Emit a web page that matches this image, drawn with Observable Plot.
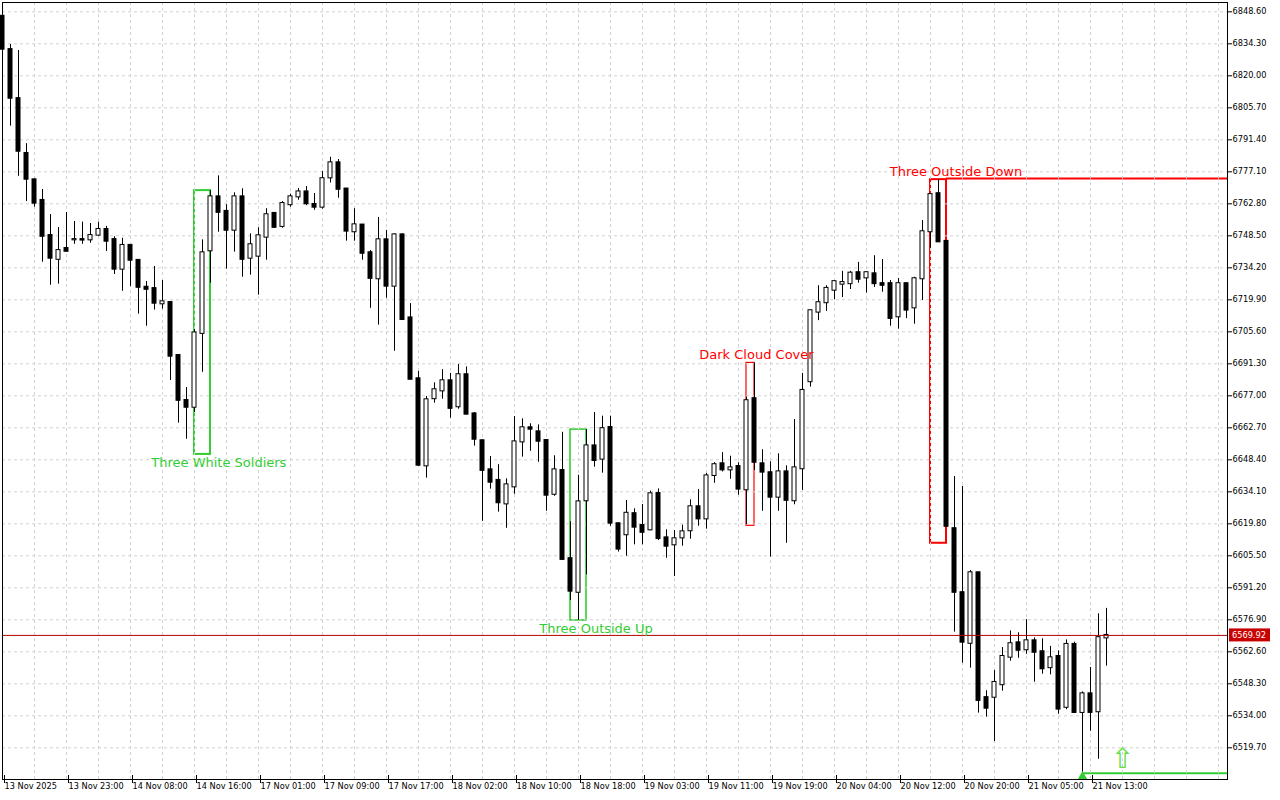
<!DOCTYPE html>
<html><head><meta charset="utf-8">
<script src="https://cdn.jsdelivr.net/npm/d3@7"></script>
<script src="https://cdn.jsdelivr.net/npm/@observablehq/plot@0.6"></script>
<style>
html,body{margin:0;padding:0;background:#fff;}
#chart{width:1280px;height:800px;overflow:hidden;}
</style>
</head><body><div id="chart"></div>
<script>
// Hourly candles, 13 Nov 2025 15:00 .. 21 Nov 2025 15:00
const open = [6846.6,6831.7,6809.8,6785.3,6773.5,6764.3,6748.6,6738.0,6742.8,6746.7,
6746.8,6746.7,6748.8,6751.3,6746.8,6733.6,6744.2,6737.5,6725.5,6724.9,
6718.1,6718.7,6695.0,6674.9,6671.9,6704.9,6741.8,6765.9,6759.4,6751.0,
6765.9,6738.5,6739.4,6747.9,6758.5,6752.7,6762.4,6765.9,6768.1,6762.5,
6761.3,6774.4,6781.1,6769.4,6750.3,6753.3,6740.9,6729.3,6746.7,6726.0,
6748.9,6711.8,6684.6,6645.7,6675.7,6679.2,6683.7,6672.1,6686.4,6668.9,
6656.9,6643.9,6639.2,6628.7,6636.3,6656.4,6662.7,6660.9,6657.0,6633.0,
6643.6,6604.2,6589.2,6630.1,6654.6,6648.7,6662.8,6619.8,6614.9,6624.3,
6619.0,6617.1,6633.3,6613.5,6610.4,6613.5,6616.7,6627.4,6622.0,6641.4,
6646.6,6643.9,6645.4,6635.0,6675.7,6646.6,6642.6,6631.7,6643.0,6630.1,
6644.4,6683.3,6714.4,6718.6,6724.2,6726.9,6727.1,6732.0,6729.7,6731.5,
6727.1,6727.1,6712.3,6727.1,6716.3,6729.3,6750.3,6767.3,6746.0,6617.6,
6589.0,6566.4,6597.9,6542.1,6542.3,6547.9,6560.2,6566.6,6563.5,6567.5,
6562.6,6555.5,6560.5,6537.8,6565.9,6535.5,6543.8,6535.8,6568.8];
const high = [6848.3,6834.0,6831.3,6789.7,6773.8,6769.2,6758.0,6752.2,6758.9,6754.9,
6754.6,6754.0,6754.6,6752.7,6748.1,6747.4,6744.5,6737.8,6728.1,6734.8,
6728.5,6719.0,6695.4,6680.7,6706.6,6746.7,6768.7,6775.3,6762.4,6767.7,
6769.5,6749.4,6752.1,6760.6,6758.8,6763.8,6767.1,6769.6,6770.5,6767.4,
6777.2,6783.6,6782.6,6769.6,6760.6,6753.5,6741.9,6756.7,6750.9,6749.4,
6749.4,6718.2,6687.9,6676.7,6682.8,6688.7,6687.0,6691.0,6689.9,6669.5,
6657.2,6649.9,6646.2,6639.9,6667.7,6666.7,6664.5,6664.0,6657.2,6650.2,
6660.7,6620.7,6641.5,6661.9,6669.5,6667.9,6667.9,6620.1,6630.2,6626.5,
6628.4,6634.4,6635.4,6617.1,6616.8,6619.2,6630.5,6635.1,6642.3,6647.1,
6651.6,6650.0,6647.1,6676.4,6691.7,6652.9,6647.5,6651.1,6645.7,6666.4,
6687.0,6715.3,6726.2,6726.2,6728.5,6732.6,6732.6,6736.6,6732.4,6739.6,
6737.9,6728.5,6729.4,6727.3,6730.0,6755.3,6767.3,6773.6,6746.2,6640.9,
6636.5,6598.9,6598.1,6545.2,6554.2,6564.5,6571.9,6571.1,6577.0,6568.8,
6568.4,6565.0,6563.0,6567.9,6566.9,6544.7,6555.6,6579.6,6582.0];
const low = [6831.5,6797.5,6775.1,6763.8,6761.3,6736.7,6726.4,6726.9,6741.4,6744.7,
6744.7,6745.2,6748.3,6741.5,6731.2,6723.7,6725.8,6713.5,6708.1,6715.3,
6715.7,6683.8,6664.8,6657.6,6669.5,6687.5,6727.3,6750.1,6733.6,6741.2,
6730.0,6730.9,6722.0,6737.6,6751.9,6751.9,6761.3,6764.4,6762.0,6759.9,
6760.4,6772.1,6765.3,6746.1,6746.1,6737.6,6716.1,6708.6,6720.6,6696.9,
6710.8,6684.2,6645.5,6640.2,6673.7,6675.5,6667.0,6671.0,6668.5,6654.5,
6620.9,6635.3,6625.0,6617.8,6633.0,6649.6,6652.2,6647.3,6625.4,6632.1,
6603.5,6585.5,6576.6,6597.0,6645.1,6642.4,6618.7,6607.2,6605.3,6610.4,
6610.4,6616.7,6612.3,6604.4,6596.2,6609.8,6612.9,6618.7,6617.4,6637.9,
6643.0,6639.7,6632.6,6619.5,6643.6,6625.4,6604.9,6625.4,6611.1,6628.3,
6634.7,6680.9,6710.6,6714.7,6719.9,6720.9,6724.5,6727.3,6722.9,6725.4,
6723.3,6708.1,6706.8,6711.5,6709.0,6719.6,6743.0,6745.6,6618.5,6571.4,
6557.5,6555.3,6535.2,6533.4,6522.5,6545.0,6558.4,6559.7,6561.5,6549.0,
6552.6,6552.3,6534.7,6536.7,6535.4,6508.7,6527.1,6514.6,6556.2];
const close = [6831.9,6810.0,6786.3,6773.8,6763.1,6748.3,6738.5,6741.9,6741.6,6746.8,
6746.6,6748.6,6751.3,6746.1,6733.6,6744.2,6737.6,6725.5,6724.6,6718.4,
6719.0,6694.7,6675.0,6671.9,6705.1,6740.9,6765.9,6759.0,6751.0,6765.9,
6738.0,6744.5,6748.5,6757.9,6752.3,6762.9,6765.9,6768.1,6762.8,6761.3,
6774.0,6781.1,6769.3,6750.6,6753.4,6740.7,6729.5,6746.7,6726.0,6748.9,
6711.1,6684.4,6646.0,6675.2,6679.7,6683.7,6671.4,6686.4,6668.8,6657.6,
6643.7,6638.4,6629.2,6637.2,6656.4,6662.7,6662.1,6656.7,6632.6,6643.9,
6603.9,6589.7,6629.6,6654.6,6648.1,6662.3,6620.1,6608.5,6624.5,6618.3,
6616.0,6633.2,6613.2,6609.8,6613.1,6616.2,6627.4,6622.0,6641.2,6646.2,
6643.9,6644.8,6635.3,6674.8,6647.3,6642.9,6631.7,6643.0,6630.3,6644.8,
6679.4,6715.0,6718.6,6725.0,6728.0,6727.6,6731.8,6729.1,6732.0,6727.1,
6726.4,6711.6,6727.1,6715.3,6729.3,6750.3,6766.9,6745.8,6618.7,6589.2,
6566.9,6597.9,6540.9,6537.4,6548.9,6560.5,6566.2,6563.3,6567.5,6562.4,
6555.0,6559.9,6537.0,6565.9,6535.5,6543.8,6535.5,6568.9,6569.92];

// time-axis labels, one every 8 bars
const timeLabels = ["13 Nov 2025","13 Nov 23:00","14 Nov 08:00","14 Nov 16:00","17 Nov 01:00",
"17 Nov 09:00","17 Nov 17:00","18 Nov 02:00","18 Nov 10:00","18 Nov 18:00","19 Nov 03:00",
"19 Nov 11:00","19 Nov 19:00","20 Nov 04:00","20 Nov 12:00","20 Nov 20:00","21 Nov 05:00","21 Nov 13:00"];
const labelEvery = 8;

// price-axis labels
const priceTicks = [6848.60,6834.30,6820.00,6805.70,6791.40,6777.10,6762.80,6748.50,6734.20,
6719.90,6705.60,6691.30,6677.00,6662.70,6648.40,6634.10,6619.80,6605.50,6591.20,6576.90,
6562.60,6548.30,6534.00,6519.70];

const lastPrice = 6569.92;

// candlestick pattern annotations
const patternNames  = ["Three White Soldiers","Three Outside Up","Dark Cloud Cover","Three Outside Down"];
const patternFirst  = [24, 71, 93, 116];
const patternLast   = [26, 73, 94, 118];
const patternLow    = [6650.8, 6576.6, 6618.9, 6611.1];
const patternHigh   = [6768.7, 6661.9, 6691.7, 6773.6];
const patternColor  = ["#32cd32","#32cd32","#ff0000","#ff0000"];
const patternLabelX = [18.6, 67.1, 87.1, 110.9];
const patternLabelP = [6647.2, 6573.0, 6695.5, 6777.2];

// horizontal level lines running to the right edge
const levelFrom  = [118, 135];
const levelPrice = [6774.1, 6508.3];
const levelColor = ["#ff0000", "#32cd32"];

// signal markers
const signalBar = 135, signalPrice = 6506.9;
const arrowBar = 140, arrowPrice = 6514.9;

// ---------- build ----------
const candles = open.map((o, i) => ({i, o, h: high[i], l: low[i], c: close[i]}));
const up = candles.filter(d => d.c >= d.o);
const down = candles.filter(d => d.c < d.o);
const patterns = patternNames.map((name, k) => ({
  name, first: patternFirst[k], last: patternLast[k], lo: patternLow[k], hi: patternHigh[k],
  color: patternColor[k], lx: patternLabelX[k], lp: patternLabelP[k]
}));
const levels = levelFrom.map((f, k) => ({from: f, price: levelPrice[k], color: levelColor[k]}));

const X_DOMAIN = [0, 153.125];
const Y_DOMAIN = [6505.53, 6852.76];
const xTicks = timeLabels.map((_, k) => k * labelEvery);
const xGrid = d3.range(4, 153, 4);
const fontAxis = "DejaVu Sans";

const bodyHalf = 0.25;

const marks = [
  // pattern boxes (background objects)
  ...patterns.map(p => Plot.rect([p], {
    x1: "first", x2: "last", y1: "lo", y2: "hi",
    fill: "none", stroke: p.color,
    strokeWidth: p.name === "Dark Cloud Cover" ? 1.2 : (p.name === "Three Outside Up" ? 1.6 : 2)
  })),
  ...levels.map(l => Plot.ruleY([l], {
    y: "price", x1: "from", x2: () => X_DOMAIN[1], stroke: l.color, strokeWidth: 2
  })),
  // grid
  Plot.gridY(priceTicks, {stroke: "#d2d2d2", strokeOpacity: 1, strokeDasharray: "3,3"}),
  Plot.gridX(xGrid, {stroke: "#d2d2d2", strokeOpacity: 1, strokeDasharray: "3,3"}),
  // candles
  Plot.ruleX(candles, {x: "i", y1: "l", y2: "h", stroke: "#000", strokeWidth: 1}),
  Plot.rect(down, {x1: d => d.i - bodyHalf, x2: d => d.i + bodyHalf, y1: "c", y2: "o",
    fill: "#000", stroke: "#000", strokeWidth: 1, insetTop: -0.5, insetBottom: -0.5}),
  Plot.rect(up, {x1: d => d.i - bodyHalf, x2: d => d.i + bodyHalf, y1: "o", y2: "c",
    fill: "#fff", stroke: "#000", strokeWidth: 1, insetTop: -0.5, insetBottom: -0.5}),
  // last price line
  Plot.ruleY([lastPrice], {stroke: "#b40000", strokeWidth: 1}),
  // pattern labels
  ...patterns.map(p => Plot.text([p], {
    x: "lx", y: "lp", text: "name", fill: p.color, textAnchor: "start",
    fontFamily: "DejaVu Sans", fontSize: 13
  })),
  // signal markers
  Plot.dot([{i: signalBar, p: signalPrice}], {x: "i", y: "p", symbol: "triangle", fill: "#32cd32", r: 3.5}),
  Plot.text([{i: arrowBar, p: arrowPrice}], {x: "i", y: "p", text: () => "\u21E7", fill: "#66dd44",
    fontFamily: "DejaVu Sans", fontSize: 28}),
  // frame & axes
  Plot.frame({stroke: "#000"}),
  Plot.axisY(priceTicks, {anchor: "right", tickSize: 4, tickPadding: 1,
    tickFormat: d => d.toFixed(2), textAnchor: "start", fill: "#000"}),
  Plot.axisX(xTicks, {anchor: "bottom", tickSize: 8, tickPadding: 0, dy: -4, dx: 2,
    tickFormat: i => timeLabels[i / labelEvery], textAnchor: "start", fill: "#000"})
];

const plot = Plot.plot({
  width: 1280, height: 800,
  marginLeft: 2, marginRight: 53, marginTop: 2, marginBottom: 21,
  x: {type: "linear", domain: X_DOMAIN},
  y: {type: "linear", domain: Y_DOMAIN},
  style: {fontFamily: fontAxis, fontSize: "8.2px", background: "#fff", color: "#000", overflow: "visible"},
  marks
});
document.getElementById("chart").appendChild(plot);

// last-price tag on the price axis
const svg = d3.select(plot);
const yPix = plot.scale("y").apply(lastPrice);
const xRight = plot.scale("x").apply(X_DOMAIN[1]);
const tag = svg.append("g").attr("text-anchor", "start");
tag.append("rect").attr("x", xRight + 2).attr("y", yPix - 6.5).attr("width", 41).attr("height", 13).attr("fill", "#c80000");
tag.append("text").attr("x", xRight + 5).attr("y", yPix).attr("dy", "0.35em")
  .attr("text-anchor", "start")
  .attr("fill", "#fff").attr("font-family", fontAxis).attr("font-size", "8.2px")
  .text(lastPrice.toFixed(2));
</script>
</body></html>
